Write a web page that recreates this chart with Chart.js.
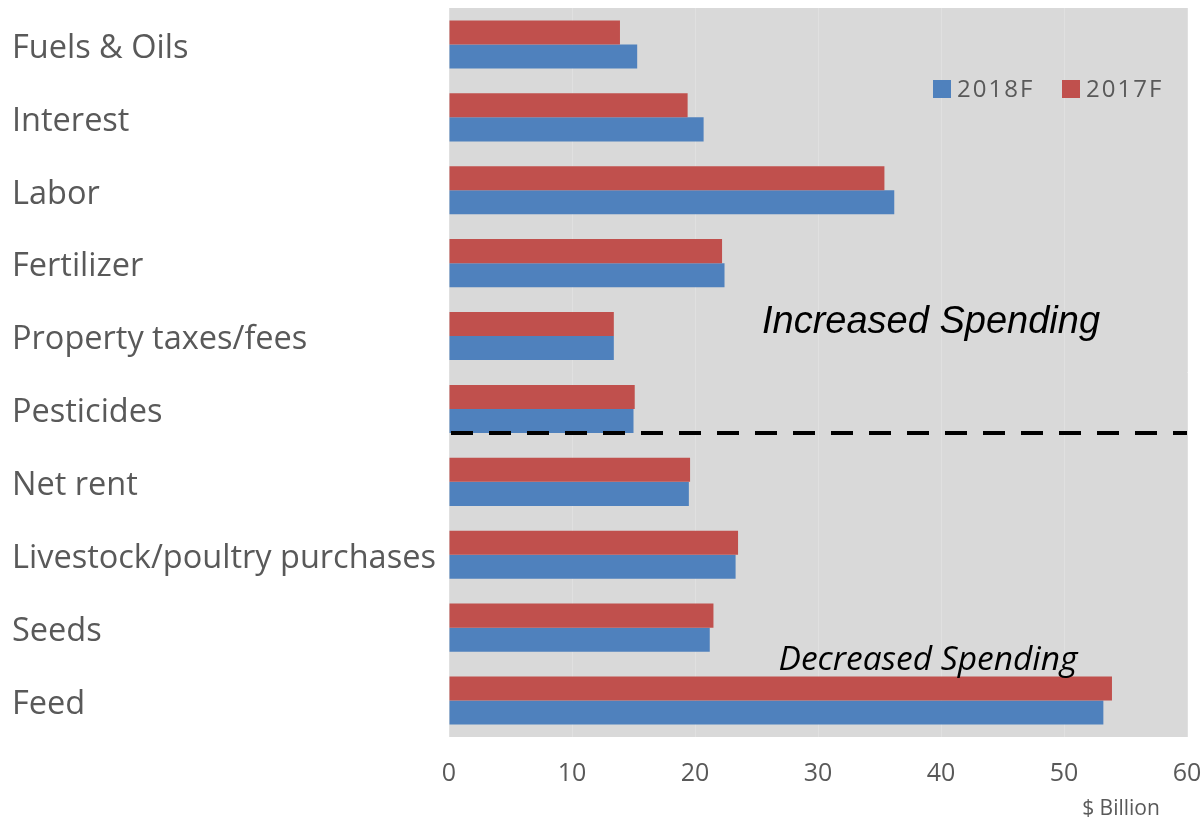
<!DOCTYPE html>
<html>
<head>
<meta charset="utf-8">
<script src="https://cdn.jsdelivr.net/npm/chart.js@4"></script>
<style>
  html, body { margin: 0; padding: 0; background: #fff; }
  #wrap { width: 1204px; height: 822px; }
</style>
</head>
<body>
<div id="wrap"><canvas id="chart" width="1204" height="822"></canvas></div>
<script>
const categories = ['Fuels & Oils', 'Interest', 'Labor', 'Fertilizer', 'Property taxes/fees',
  'Pesticides', 'Net rent', 'Livestock/poultry purchases', 'Seeds', 'Feed'];
const values2017 = [13.9, 19.4, 35.4, 22.2, 13.4, 15.1, 19.6, 23.5, 21.5, 53.9];
const values2018 = [15.3, 20.7, 36.2, 22.4, 13.4, 15.0, 19.5, 23.3, 21.2, 53.2];
const xTicks = [0, 10, 20, 30, 40, 50, 60];

const RED = '#c0504d';
const BLUE = '#4f81bd';
const TEXT = '#595959';
const FONT = '"Open Sans", "Noto Sans", sans-serif';

// gray plot background, dashed divider, notes, legend and unit label
const decor = {
  id: 'decor',
  beforeDraw(chart) {
    const { ctx, chartArea: a } = chart;
    ctx.save();
    ctx.fillStyle = '#d9d9d9';
    ctx.fillRect(a.left, a.top, a.right - a.left, a.bottom - a.top);
    ctx.restore();
  },
  afterDatasetsDraw(chart) {
    const { ctx, chartArea: a, scales } = chart;
    const y = scales.y;
    // divider sits at the bottom edge of the Pesticides bars
    const step = y.getPixelForValue(6) - y.getPixelForValue(5);
    const yDiv = y.getPixelForValue(5) + step * 0.33;
    ctx.save();
    ctx.strokeStyle = '#000';
    ctx.lineWidth = 4;
    ctx.setLineDash([22, 16]);
    ctx.beginPath();
    ctx.moveTo(a.left + 2, yDiv);
    ctx.lineTo(a.right, yDiv);
    ctx.stroke();
    ctx.setLineDash([]);

    ctx.fillStyle = '#000';
    ctx.textAlign = 'center';
    ctx.textBaseline = 'alphabetic';
    ctx.font = 'italic 38px "Liberation Sans", Arial, sans-serif';
    ctx.fillText('Increased Spending', 931, 333);
    ctx.font = 'italic 33.5px ' + FONT;
    ctx.fillText('Decreased Spending', 928, 670);

    // legend
    ctx.font = '24px ' + FONT;
    ctx.textAlign = 'left';
    ctx.textBaseline = 'middle';
    ctx.letterSpacing = '2px';
    ctx.fillStyle = BLUE;
    ctx.fillRect(933, 80, 18, 18);
    ctx.fillStyle = TEXT;
    ctx.fillText('2018F', 957, 90);
    ctx.fillStyle = RED;
    ctx.fillRect(1062, 80, 18, 18);
    ctx.fillStyle = TEXT;
    ctx.fillText('2017F', 1086, 90);

    // unit label under the axis
    ctx.letterSpacing = '0px';
    ctx.textAlign = 'center';
    ctx.font = '21px ' + FONT;
    ctx.fillText('$ Billion', 1121, 809);
    ctx.restore();
  }
};

new Chart(document.getElementById('chart'), {
  type: 'bar',
  data: {
    labels: categories,
    datasets: [
      { label: '2017F', data: values2017, backgroundColor: RED },
      { label: '2018F', data: values2018, backgroundColor: BLUE }
    ]
  },
  options: {
    indexAxis: 'y',
    responsive: false,
    animation: false,
    layout: { padding: { top: 8, right: 17, left: 12, bottom: 0 } },
    datasets: { bar: { barPercentage: 1, categoryPercentage: 0.66 } },
    plugins: { legend: { display: false }, tooltip: { enabled: false } },
    scales: {
      x: {
        min: 0, max: 60,
        afterBuildTicks(s) { s.ticks = xTicks.map(v => ({ value: v })); },
        afterFit(s) { s.height = 85; s.paddingLeft = 0; s.paddingRight = 0; },
        grid: { color: '#e0e0e0', drawTicks: false },
        border: { display: false },
        ticks: { color: TEXT, font: { family: FONT, size: 25 }, padding: 22 }
      },
      y: {
        afterFit(s) { s.width = 437; s.paddingTop = 0; s.paddingBottom = 0; },
        grid: { display: false },
        border: { display: false },
        ticks: { color: TEXT, crossAlign: 'far', padding: 12, labelOffset: 4,
                 font: { family: FONT, size: 32.5 } }
      }
    }
  },
  plugins: [decor]
});
</script>
</body>
</html>
